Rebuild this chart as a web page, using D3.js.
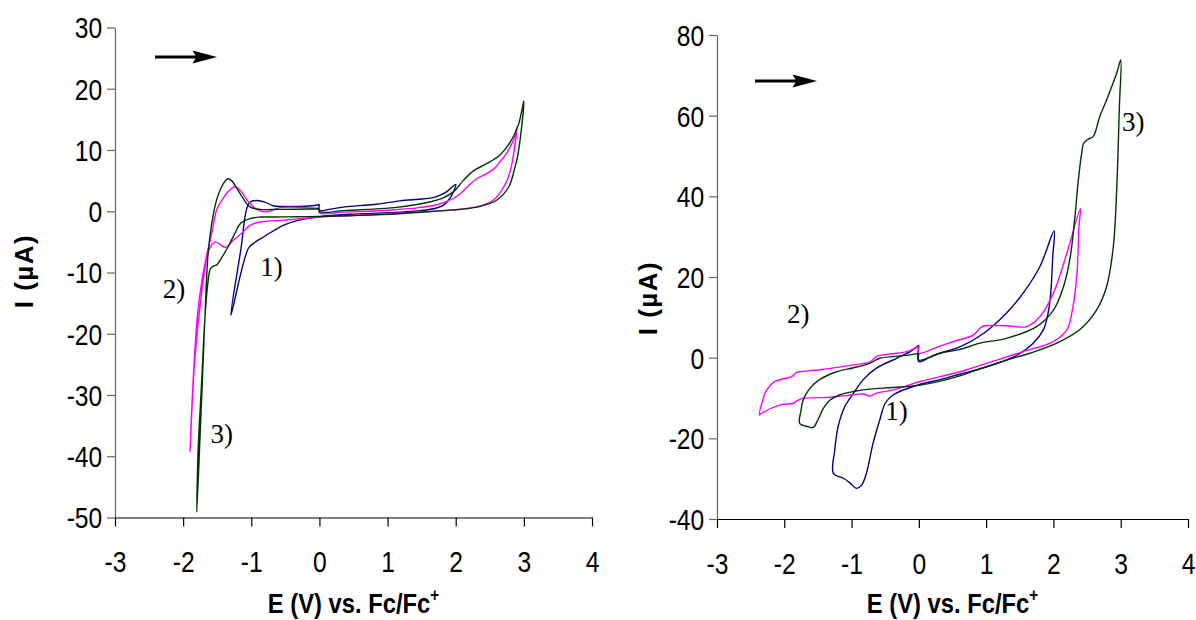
<!DOCTYPE html>
<html><head><meta charset="utf-8">
<script src="https://cdn.jsdelivr.net/npm/d3@7"></script>
<style>body{margin:0;background:#fff}</style>
</head><body>
<svg id="c" width="1196" height="620"></svg>
<script>
// ---------- data ----------
const xTicks = [-3,-2,-1,0,1,2,3,4];
const leftYTicks = [-50,-40,-30,-20,-10,0,10,20,30];
const rightYTicks = [-40,-20,0,20,40,60,80];
const seriesNames = ["1)","2)","3)"];
const seriesColors = ["#000080","#ff00ff","#003300"];

// left panel, [E (V), I (µA)]
const left1 = [[0,1.1],[0,0.15],[0.16,0.35],[0.3,0.6],[0.45,0.8],[0.8,1.1],[1.18,1.7],[1.45,1.95],[1.6,2.1],[1.72,2.4],[1.87,3.2],[2.0,4.4],[1.94,2.6],[1.82,1.0],[1.67,0.4],[1.4,0.0],[1.0,-0.25],[0.45,-0.5],[0,-0.9],[-0.28,-1.4],[-0.53,-2.3],[-0.82,-4.2],[-0.95,-5.1],[-1.04,-6.0],[-1.30,-17.0],[-1.15,-6.0],[-1.07,0.3],[-1.02,1.5],[-0.92,1.75],[-0.8,1.5],[-0.68,0.9],[-0.5,0.8],[-0.1,0.9],[0,1.1]];
const left2 = [[0,0.5],[0,-0.3],[0.35,-0.15],[0.7,0.0],[1.1,0.25],[1.43,0.55],[1.65,0.9],[1.82,1.4],[1.95,2.0],[2.07,2.9],[2.2,4.3],[2.31,5.3],[2.46,6.2],[2.57,7.0],[2.65,8.1],[2.73,9.2],[2.8,10.5],[2.86,12.0],[2.9,13.8],[2.85,9.4],[2.81,7.0],[2.76,5.2],[2.65,3.0],[2.55,1.8],[2.4,1.0],[2.16,0.44],[1.9,0.15],[1.5,-0.1],[1.0,-0.4],[0.5,-0.7],[0,-0.95],[-0.14,-1.1],[-0.58,-1.5],[-0.87,-1.75],[-1.02,-2.3],[-1.14,-3.6],[-1.26,-4.7],[-1.38,-5.9],[-1.46,-5.4],[-1.53,-5.0],[-1.6,-5.8],[-1.65,-7.5],[-1.73,-13.4],[-1.83,-24.3],[-1.90,-39.3],[-1.855,-28],[-1.79,-17],[-1.72,-11],[-1.65,-7],[-1.58,-3.6],[-1.51,0.16],[-1.43,1.8],[-1.34,3.2],[-1.24,4.0],[-1.16,3.4],[-1.04,1.5],[-0.92,0.3],[-0.77,-0.1],[-0.58,0.6],[-0.23,0.6],[0,0.5]];
const left3 = [[0,0.4],[0,-0.1],[0.35,0.1],[0.7,0.3],[1.1,0.6],[1.43,1.1],[1.65,1.6],[1.8,2.1],[1.97,3.2],[2.11,5.0],[2.26,6.6],[2.46,7.8],[2.65,9.2],[2.8,11.3],[2.92,14.1],[3.0,18.0],[2.95,12.1],[2.9,8.5],[2.87,7.2],[2.78,4.0],[2.6,1.8],[2.36,0.8],[2.1,0.35],[1.8,0.1],[1.18,-0.4],[0.5,-0.7],[0,-0.85],[-0.3,-0.9],[-0.72,-0.95],[-0.87,-0.95],[-1.02,-1.2],[-1.16,-2.0],[-1.24,-3.6],[-1.34,-5.8],[-1.43,-7.5],[-1.51,-8.8],[-1.55,-8.9],[-1.6,-9.4],[-1.64,-12],[-1.68,-17.3],[-1.73,-28.2],[-1.78,-39],[-1.80,-49.1],[-1.75,-36.3],[-1.70,-22.7],[-1.66,-11.8],[-1.63,-6.4],[-1.58,-2.0],[-1.51,1.8],[-1.41,4.5],[-1.34,5.3],[-1.29,5.0],[-1.21,3.7],[-1.12,2.1],[-1.02,0.7],[-0.87,0.3],[-0.58,0.3],[0,0.4]];

// right panel, [E (V), I (µA)]
const right1 = [[0,3.1],[0,-1.0],[0.15,0.0],[0.31,1.1],[0.6,2.6],[0.96,6.0],[1.3,11.0],[1.55,16.0],[1.8,22.6],[2.01,31.4],[1.99,25],[1.96,16],[1.92,11],[1.85,6.9],[1.70,3.6],[1.45,0.5],[1.2,-1.2],[0.9,-2.8],[0.61,-4.1],[0.3,-5.5],[0.02,-6.6],[-0.38,-9.2],[-0.5,-11.3],[-0.58,-15.4],[-0.68,-21.2],[-0.78,-28.7],[-0.85,-31.6],[-0.93,-32.4],[-1.02,-31.1],[-1.12,-29.9],[-1.27,-28.7],[-1.25,-22.9],[-1.20,-17.1],[-1.10,-12.1],[-0.97,-8.8],[-0.83,-5.5],[-0.63,-2.6],[-0.33,-0.15],[-0.13,1.5],[0,3.1]];
const right2 = [[0,2.8],[0,1.1],[0.3,2.8],[0.55,4.2],[0.81,5.6],[0.91,7.3],[0.98,7.9],[1.3,7.9],[1.6,7.7],[1.8,10.2],[2.0,16],[2.2,25.9],[2.40,37.0],[2.38,32.5],[2.35,20.9],[2.29,12.6],[2.2,6.9],[2.0,4.0],[1.55,1.5],[1.16,-0.6],[0.61,-3.5],[0.02,-5.9],[-0.38,-8.0],[-0.63,-8.8],[-0.73,-9.5],[-0.83,-9.0],[-0.97,-9.2],[-1.32,-9.8],[-1.72,-10.1],[-1.79,-10.5],[-1.87,-11.3],[-2.06,-11.7],[-2.34,-13.8],[-2.37,-14.2],[-2.34,-11.7],[-2.26,-8.0],[-2.14,-5.9],[-1.97,-5.1],[-1.89,-4.7],[-1.82,-3.7],[-1.77,-3.5],[-1.47,-3.0],[-0.97,-1.8],[-0.73,-1.1],[-0.63,0.25],[-0.48,0.8],[-0.18,1.5],[0,2.8]];
const right3 = [[0,1.0],[0,-0.6],[0.31,1.1],[0.6,2.0],[0.91,3.6],[1.30,4.8],[1.75,7.7],[2.0,11.8],[2.15,17.6],[2.25,25.0],[2.32,35],[2.37,44],[2.42,50.7],[2.45,53.2],[2.52,54.2],[2.59,54.8],[2.69,59.8],[2.79,63.9],[2.94,70.5],[3.0,73.8],[2.98,62.2],[2.94,41.6],[2.89,27.5],[2.79,17.6],[2.64,11.8],[2.39,6.9],[2.05,3.6],[1.65,1.1],[1.30,-0.6],[0.9,-2.8],[0.61,-4.5],[0.02,-6.8],[-0.38,-7.4],[-0.73,-7.8],[-0.97,-8.4],[-1.17,-9.2],[-1.32,-10.5],[-1.42,-12.6],[-1.50,-15.4],[-1.57,-17.3],[-1.65,-17.1],[-1.77,-16.3],[-1.75,-13],[-1.72,-10.5],[-1.62,-7.6],[-1.47,-5.4],[-1.22,-3.5],[-0.97,-2.5],[-0.73,-1.4],[-0.58,-0.15],[-0.23,0.5],[0,1.0]];

// annotation anchors [E, I]
const leftLabelPos = [[-0.87,-10.5],[-2.30,-14.2],[-1.60,-37.9]];
const rightLabelPos = [[-0.50,-15.4],[-1.96,8.6],[3.02,56.2]];

// ---------- drawing ----------
const svg = d3.select("#c");
const panels = [
  {series:[left1,left2,left3], labels:leftLabelPos, yTicks:leftYTicks, yDom:[-50,30],
   xr:[115,592], yr:[517.5,27.5], arrow:[155,57], ytitle:[24,271]},
  {series:[right1,right2,right3], labels:rightLabelPos, yTicks:rightYTicks, yDom:[-40,80],
   xr:[717,1188], yr:[519,35], arrow:[755,81], ytitle:[648,298]}
];
const sans = "'Liberation Sans', Arial, sans-serif";
const serif = "'Liberation Serif', 'Times New Roman', serif";
const fmt = d => String(d);

panels.forEach(p => {
  const x = d3.scaleLinear().domain([-3,4]).range(p.xr);
  const y = d3.scaleLinear().domain(p.yDom).range(p.yr);
  const g = svg.append("g");

  // y axis
  const ya = g.append("g").attr("transform",`translate(${p.xr[0]},0)`)
    .call(d3.axisLeft(y).tickValues(p.yTicks).tickFormat(fmt).tickSize(8).tickSizeOuter(0).tickPadding(7));
  ya.select(".domain").attr("stroke","#666").attr("stroke-width",1.2);
  ya.selectAll(".tick line").attr("stroke","#666").attr("stroke-width",1.2);
  ya.selectAll(".tick text").attr("font-family",sans).attr("font-size",29).attr("fill","#000")
    .attr("transform","scale(0.85,1)").attr("dy","0.36em");

  // x axis
  const xa = g.append("g").attr("transform",`translate(0,${p.yr[0]})`)
    .call(d3.axisBottom(x).tickValues(xTicks).tickFormat(fmt).tickSize(9).tickSizeOuter(0));
  xa.select(".domain").attr("stroke","#000").attr("stroke-width",1.2);
  xa.selectAll(".tick line").attr("stroke","#000").attr("stroke-width",1.2);
  xa.selectAll(".tick text").attr("font-family",sans).attr("font-size",29).attr("fill","#000")
    .attr("transform","scale(0.85,1)").attr("y",34);

  // curves
  const line = d3.line().x(d=>x(d[0])).y(d=>y(d[1])).curve(d3.curveCatmullRom.alpha(0.5));
  p.series.forEach((s,i) => {
    g.append("path").attr("d",line(s)).attr("fill","none")
      .attr("stroke",seriesColors[i]).attr("stroke-width",1.4).attr("stroke-linejoin","round");
  });

  // annotations
  p.labels.forEach((l,i) => {
    g.append("text").attr("x",x(l[0])).attr("y",y(l[1])).text(seriesNames[i])
      .attr("font-family",serif).attr("font-size",27).attr("fill","#000");
  });

  // arrow
  const [ax,ay] = p.arrow;
  g.append("line").attr("x1",ax).attr("x2",ax+42).attr("y1",ay).attr("y2",ay)
    .attr("stroke","#000").attr("stroke-width",3);
  g.append("path").attr("d",`M${ax+62},${ay} L${ax+37.5},${ay-6.5} L${ax+41.5},${ay} L${ax+37.5},${ay+6.5} Z`)
    .attr("fill","#000");

  // axis titles
  const xmid = (p.xr[0]+p.xr[1])/2;
  const xt = g.append("text").attr("transform",`translate(${xmid},613) scale(0.85,1)`)
    .attr("text-anchor","middle").attr("font-family",sans).attr("font-weight","bold")
    .attr("font-size",28).attr("fill","#000");
  xt.append("tspan").text("E (V) vs. Fc/Fc");
  xt.append("tspan").text("+").attr("font-size",18).attr("dy",-12);

  g.append("text").attr("transform",`translate(${p.ytitle[0]+9},${p.ytitle[1]}) rotate(-90)`)
    .attr("text-anchor","middle").attr("font-family",sans).attr("font-weight","bold")
    .attr("font-size",26).attr("letter-spacing",1.5).attr("fill","#000").text("I (µA)");
});
</script>
</body></html>
